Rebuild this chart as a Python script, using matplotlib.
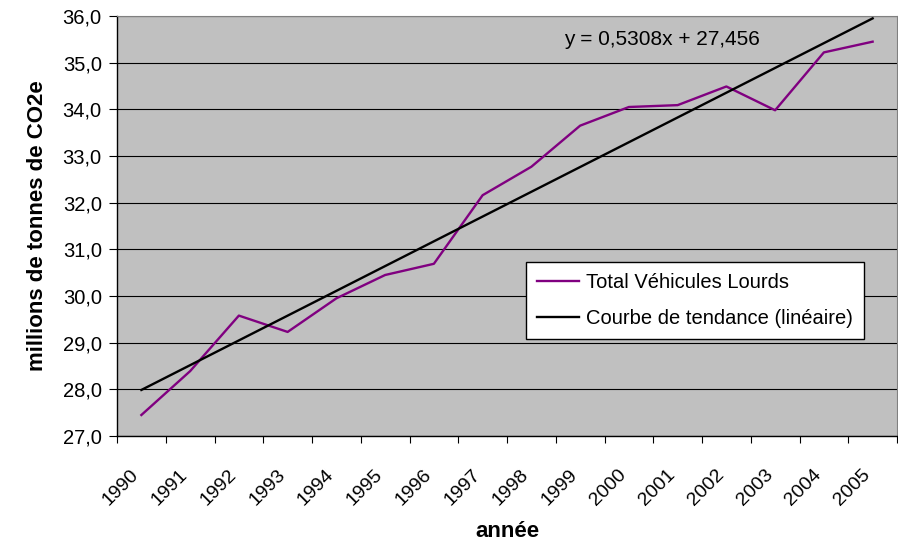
import matplotlib
matplotlib.use("Agg")
import matplotlib.pyplot as plt
from matplotlib.transforms import ScaledTranslation
import numpy as np

plt.rcParams['font.family'] = ['Liberation Sans', 'DejaVu Sans']

years = ["1990", "1991", "1992", "1993", "1994", "1995", "1996", "1997",
         "1998", "1999", "2000", "2001", "2002", "2003", "2004", "2005"]
values = [27.45, 28.39, 29.58, 29.23, 29.95, 30.45, 30.69, 32.16,
          32.77, 33.65, 34.05, 34.09, 34.49, 33.98, 35.22, 35.45]
trend_slope = 0.5308
trend_intercept = 27.456
y_ticks = [27, 28, 29, 30, 31, 32, 33, 34, 35, 36]

fig = plt.figure(figsize=(8.98, 5.45), dpi=100)
ax = fig.add_axes([117 / 898, 109 / 545, 780 / 898, 420 / 545])
ax.set_facecolor('#C0C0C0')

x = np.arange(1, len(years) + 1)
trend = trend_slope * x + trend_intercept

ax.plot(x, values, color='#800080', lw=1.7, label='Total Véhicules Lourds', zorder=3)
ax.plot(x, trend, color='black', lw=1.7, label='Courbe de tendance (linéaire)', zorder=4)

ax.set_xlim(0.5, len(years) + 0.5)
ax.set_ylim(27, 36)
ax.set_yticks(y_ticks)
ax.set_yticklabels([f"{v:.1f}".replace('.', ',') for v in y_ticks], fontsize=14.5)
ax.yaxis.grid(True, color='black', lw=0.8)
ax.set_axisbelow(True)

# category boundary ticks (no labels), labels drawn at category centres
ax.set_xticks(np.arange(0.5, len(years) + 1.0, 1.0))
ax.set_xticklabels([])
ax.tick_params(axis='x', which='major', length=5, color='black')
ax.tick_params(axis='y', length=6, color='black', pad=5)

lab_tr = ax.get_xaxis_transform() + ScaledTranslation(-11 / 100, -30 / 100, fig.dpi_scale_trans)
for xi, yr in zip(x, years):
    ax.text(xi, 0, yr, transform=lab_tr, rotation=45, ha='right', va='top',
            rotation_mode='anchor', fontsize=14, clip_on=False)

for s in ['left', 'bottom']:
    ax.spines[s].set_color('black')
    ax.spines[s].set_linewidth(1.0)
for s in ['top', 'right']:
    ax.spines[s].set_color('#808080')
    ax.spines[s].set_linewidth(0.8)

ax.set_ylabel('millions de tonnes de CO2e', fontsize=16, fontweight='bold')
ax.yaxis.set_label_coords(-0.0885, 0.5)
ax.set_xlabel('année', fontsize=16, fontweight='bold')
ax.xaxis.set_label_coords(0.501, -0.202)

fig.text(662 / 898, 1 - 39 / 545, 'y = 0,5308x + 27,456',
         ha='center', va='center', fontsize=15)

leg = ax.legend(loc='upper left', bbox_to_anchor=((526 - 117) / 780, (436 - 262) / 420),
                fontsize=14.5, frameon=True, fancybox=False, edgecolor='black',
                framealpha=1, handlelength=2.1, handletextpad=0.35,
                borderpad=0.55, labelspacing=0.85, borderaxespad=0)
leg.get_frame().set_linewidth(1.0)

fig.savefig('out.png', dpi=100)
